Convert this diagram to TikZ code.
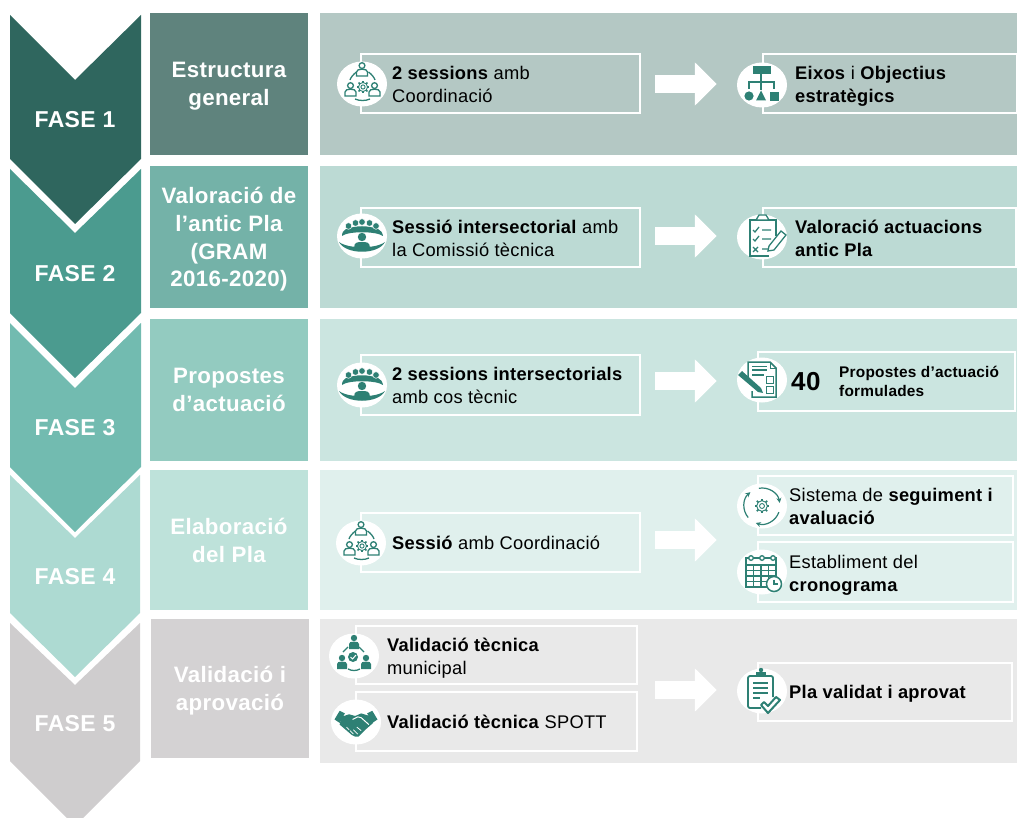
\documentclass[tikz,border=0pt]{standalone}
\usepackage{fontspec}
\setmainfont[LetterSpace=1.5]{Liberation Sans}
\usetikzlibrary{arrows.meta,shapes.geometric}
\definecolor{ic}{HTML}{2E8074}
\definecolor{chA}{HTML}{2F665E}\definecolor{chB}{HTML}{4B9B8F}\definecolor{chC}{HTML}{72BBB0}\definecolor{chD}{HTML}{ADDAD2}\definecolor{chE}{HTML}{CFCDCE}
\definecolor{hdA}{HTML}{5F837D}\definecolor{hdB}{HTML}{74B2A8}\definecolor{hdC}{HTML}{93CBC0}\definecolor{hdD}{HTML}{BEE2DA}\definecolor{hdE}{HTML}{D4D2D3}
\definecolor{bgA}{HTML}{B4C8C4}\definecolor{bgB}{HTML}{BCDAD4}\definecolor{bgC}{HTML}{CBE5E0}\definecolor{bgD}{HTML}{E0F0ED}\definecolor{bgE}{HTML}{E9E9E9}
\tikzset{
  hdbox/.style={inner sep=0pt,outer sep=0pt,anchor=north west,minimum width=158pt,text=white,align=center,text depth=0pt,
    font=\fontsize{22.3}{27.8}\selectfont\bfseries},
  bgbox/.style={inner sep=0pt,outer sep=0pt,anchor=north west,minimum width=697pt},
  fase/.style={text=white,inner sep=0pt,text depth=0pt,font=\fontsize{23}{26}\selectfont\bfseries},
  itembox/.style={draw=white,line width=2pt,inner sep=0pt,outer sep=0pt,anchor=north west},
  iconbg/.style={ellipse,fill=white,inner sep=0pt,minimum width=50pt,minimum height=45pt},
  lbl/.style={anchor=west,inner sep=0pt,align=left,text=black,text depth=0pt,font=\fontsize{18.3}{23}\selectfont},
  bigarrow/.style={draw=white,line width=18pt,-{Triangle[width=42pt,length=22pt]},shorten <=15pt,shorten >=20pt},
  il/.style={draw=ic,line width=1.3pt,fill=none},
  iconcoord/.pic={
    \personO{0}{-14}\personO{-11.5}{6}\personO{12.5}{6}
    \gearI{1}{3}{1.1}
    \draw[il] (-5.5,-12) .. controls (-9,-9.5) and (-11.5,-6) .. (-12,-4);
    \draw[il] (6.5,-12) .. controls (10,-9.5) and (12.5,-6) .. (13,-4);
    \draw[il] (-7,15) .. controls (-3,17) and (4,17) .. (8,15);
  },
  iconaud/.pic={
    \fill[ic] (-20,0) .. controls (-20,-7) and (-14,-8) .. (-8,-9) .. controls (-3,-10) and (3,-10) .. (8,-9)
      .. controls (14,-8) and (20,-7) .. (21,0) .. controls (14,-5) and (-14,-5) .. (-20,0) -- cycle;
    \foreach \hx/\hy in {-13.5/-10,-6.5/-13,0/-14,7.5/-13,14/-10}{\fill[ic,draw=white,line width=.5pt] (\hx,\hy) circle (3.3);}
    \fill[ic] (0,1) circle (4.2);
    \fill[ic] (-8,12) .. controls (-8,6) and (-4,6) .. (0,6) .. controls (4,6) and (8,6) .. (8,12) -- cycle;
    \fill[ic] (-23,6) .. controls (-14,13) and (14,13) .. (23,6) .. controls (16,19) and (-16,19) .. (-23,6) -- cycle;
  },
  iconhier/.pic={
    \fill[ic] (-9,-19) rectangle (9,-11);
    \draw[ic,line width=1.4pt] (-1,-11) -- (-1,5);
    \draw[ic,line width=1.4pt] (-13,4) -- (-13,-3) -- (12,-3) -- (12,4);
    \fill[ic] (-13,11) circle (4.6);
    \fill[ic] (-1,5.5) -- (-6,15.5) -- (4,15.5) -- cycle;
    \fill[ic] (8,7) rectangle (17,16);
  },
  iconcheck/.pic={
    \draw[il] (7,19) -- (-12,19) -- (-12,-17) -- (14,-17) -- (14,-1);
    \draw[il,fill=white] (-6,-17) -- (-3,-22) -- (4,-22) -- (7,-17) -- cycle;
    \draw[il] (-9,-7) -- (-7,-5) -- (-3,-10) (0,-7) -- (9,-7);
    \draw[il] (-9,2) -- (-7,4) -- (-3,-1) (0,2) -- (9,2);
    \draw[il] (-9,10) -- (-4,15) (-9,15) -- (-4,10) (0,12) -- (8,12);
    \draw[il,fill=white] (7,9) -- (19,-6) -- (24,-2) -- (12,13) -- (6,14) -- cycle;
  },
  iconform/.pic={
    \draw[ic,line width=1.5pt] (-14,-1) -- (-14,-18) -- (8,-18) -- (14,-12) -- (14,17) -- (-10,17) -- (-10,11);
    \draw[ic,line width=1pt] (8,-18) -- (8,-12) -- (14,-12);
    \draw[ic,line width=1.4pt] (-10,-13.5) -- (5,-13.5) (-10,-10) -- (5,-10) (-10,-5) -- (2,-5);
    \draw[il,line width=1pt] (4,-4) rectangle (11,3) (4,6) rectangle (11,13);
    \fill[ic] (-24,-5) -- (-20,-9) -- (-1,8) -- (1,13) -- (-4,12) -- cycle;
  },
  iconcycle/.pic={
    \foreach \a in {20,140,260}{
      \draw[ic,line width=1.2pt,-{Stealth[length=5pt,width=5pt]}] (\a:18) arc[start angle=\a,delta angle=90,radius=18];
    }
    \gearI{0}{0}{1.3}
  },
  iconcal/.pic={
    \draw[il] (-16,-14) rectangle (14,15);
    \draw[il] (-16,-7) -- (14,-7);
    \foreach \gx in {-8.5,-1,6.5}{\draw[il] (\gx,-7) -- (\gx,15);}
    \foreach \gy in {-1.5,4,9.5}{\draw[il] (-16,\gy) -- (14,\gy);}
    \foreach \gx in {-11,0,11}{\draw[il,fill=white] (\gx,-14) circle (2.3);}
    \draw[il,fill=white,line width=1.5pt] (12,12) circle (7.5);
    \draw[il] (12,7.5) -- (12,12) -- (16,12);
  },
  iconvalid/.pic={
    \personF{0}{-18}\personF{-12}{2}\personF{12}{2}
    \fill[ic] (-1,1) circle (5);
    \draw[white,line width=1pt] (-3.5,1) -- (-1.5,3) -- (2,-1);
    \draw[il] (-6,-9) -- (-11,-4) (5,-9) -- (10,-4);
    \draw[il] (-6,13) .. controls (-2,15) and (2,15) .. (6,13);
  },
  iconhand/.pic={
    \fill[ic] (-25,-3) -- (-19,-13) -- (-13,-10) -- (-19,1) -- cycle;
    \fill[ic] (25,-3) -- (19,-13) -- (13,-10) -- (19,1) -- cycle;
    \fill[ic] (-17,-6) -- (-8,-9) -- (-1,-7) -- (6,-10) -- (16,-7) -- (20,1) -- (12,8) -- (7,13) -- (3,17) -- (-1,17) -- (-5,15) -- (-19,3) -- cycle;
    \draw[white,line width=1pt] (-4,-3) -- (2,-6) -- (6,-5) -- (15,3);
    \draw[white,line width=.8pt] (1,6) -- (6,10) (-3,9) -- (2,14) (-7,10) -- (-3,14) (-11,6) -- (-8,9);
  },
  iconclip/.pic={
    \draw[ic,line width=1.8pt,rounded corners=2pt] (-1,17) -- (-14,17) -- (-14,-15) -- (11,-15) -- (11,6);
    \fill[ic] (-6,-15) rectangle (4,-19);
    \fill[ic] (-1,-21) circle (2.2);
    \draw[ic,line width=1.6pt] (-9,-8) -- (6,-8) (-9,-3) -- (6,-3) (-9,2) -- (6,2) (-9,7) -- (-2,7);
    \draw[ic,line width=2pt,line join=round,fill=white] (-1,14) -- (2,11) -- (6,15) -- (14,6) -- (18,9) -- (6,22) -- cycle;
  },
}
\newcommand{\personO}[2]{\begin{scope}[shift={(#1,#2)}]
  \draw[il] (0,-4.4) circle (2.9);
  \draw[il] (-5.5,6) -- (-5.5,2) .. controls (-5.5,0) and (-3,-.8) .. (0,-.8) .. controls (3,-.8) and (5.5,0) .. (5.5,2) -- (5.5,6) -- cycle;
\end{scope}}
\newcommand{\personF}[2]{\begin{scope}[shift={(#1,#2)}]
  \fill[ic] (0,0) circle (3.2);
  \fill[ic] (-5,11) -- (-5,6) .. controls (-5,4) and (-3,3.6) .. (0,3.6) .. controls (3,3.6) and (5,4) .. (5,6) -- (5,11) -- cycle;
\end{scope}}
\newcommand{\gearI}[3]{\begin{scope}[shift={(#1,#2)},scale=#3]
  \draw[ic,line width=.9pt] (0,0) circle (1.9);
  \draw[ic,line width=.9pt] (0,0) circle (4.1);
  \foreach \a in {0,45,...,315}{\draw[ic,line width=1.6pt] (\a:4) -- (\a:5.7);}
\end{scope}}
\newcommand{\chev}[5]{\fill[#5] (10,#1) -- (75,#2) -- (141,#1) -- (141,#3) -- (75,#4) -- (10,#3) -- cycle;}
\begin{document}
\begin{tikzpicture}[x=1pt,y=-1pt]
\useasboundingbox (0,0) rectangle (1017,818);
\clip (0,0) rectangle (1017,818);
% chevrons
\chev{15}{80}{159}{224}{chA}
\chev{169}{233}{313}{378}{chB}
\chev{323}{388}{467}{532}{chC}
\fill[chD] (10,475) -- (75,538) -- (140,475) -- (140,613) -- (75,677) -- (10,613) -- cycle;
\fill[chE] (10,623) -- (75,685) -- (140,623) -- (140,761) -- (75,826) -- (10,761) -- cycle;
\node[fase] (f1) at (75,119.5) {FASE 1};
\node[fase] (f2) at (75,273.5) {FASE 2};
\node[fase] (f3) at (75,427) {FASE 3};
\node[fase] (f4) at (75,576) {FASE 4};
\node[fase] (f5) at (75,723) {FASE 5};
% heading column
\node[hdbox,fill=hdA,minimum height=142pt] (h1) at (150,13) {Estructura\\general};
\node[hdbox,fill=hdB,minimum height=142pt] (h2) at (150,166) {Valoració de\\l’antic Pla\\(GRAM\\2016-2020)};
\node[hdbox,fill=hdC,minimum height=142pt] (h3) at (150,319) {Propostes\\d’actuació};
\node[hdbox,fill=hdD,minimum height=140pt] (h4) at (150,470) {Elaboració\\del Pla};
\node[hdbox,fill=hdE,minimum height=139pt] (h5) at (151,619) {Validació i\\aprovació};
% backgrounds
\node[bgbox,fill=bgA,minimum height=142pt] (r1) at (320,13) {};
\node[bgbox,fill=bgB,minimum height=142pt] (r2) at (320,166) {};
\node[bgbox,fill=bgC,minimum height=142pt] (r3) at (320,319) {};
\node[bgbox,fill=bgD,minimum height=140pt] (r4) at (320,470) {};
\node[bgbox,fill=bgE,minimum height=144pt] (r5) at (320,619) {};
% left item boxes
\node[itembox,minimum width=279pt,minimum height=59pt] (a1) at (361,54) {};
\node[itembox,minimum width=279pt,minimum height=59pt] (a2) at (361,208) {};
\node[itembox,minimum width=279pt,minimum height=60pt] (a3) at (361,355) {};
\node[itembox,minimum width=279pt,minimum height=59pt] (a4) at (361,513) {};
\node[itembox,minimum width=281pt,minimum height=58pt] (a5) at (356,626) {};
\node[itembox,minimum width=281pt,minimum height=59pt] (a6) at (356,692) {};
% right item boxes
\node[itembox,minimum width=254pt,minimum height=59pt] (b1) at (763,54) {};
\node[itembox,minimum width=253pt,minimum height=59pt] (b2) at (763,208) {};
\node[itembox,minimum width=257pt,minimum height=59pt] (b3) at (758,352) {};
\node[itembox,minimum width=255pt,minimum height=59pt] (b4) at (758,476) {};
\node[itembox,minimum width=255pt,minimum height=60pt] (b5) at (758,542) {};
\node[itembox,minimum width=254pt,minimum height=58pt] (b6) at (758,663) {};
% icon discs
\node[iconbg] (ia1) at (362,84) {};
\node[iconbg] (ia2) at (362,236) {};
\node[iconbg] (ia3) at (362,385) {};
\node[iconbg] (ia4) at (361,543) {};
\node[iconbg] (ia5) at (354,656) {};
\node[iconbg] (ia6) at (356,722) {};
\node[iconbg] (ib1) at (762,85) {};
\node[iconbg] (ib2) at (762,237) {};
\node[iconbg] (ib3) at (762,380) {};
\node[iconbg] (ib4) at (762,506) {};
\node[iconbg] (ib5) at (762,572) {};
\node[iconbg] (ib6) at (762,691) {};
% icons
\pic at (362,84) {iconcoord};
\pic at (362,236) {iconaud};
\pic at (362,385) {iconaud};
\pic at (361,543) {iconcoord};
\pic at (354,656) {iconvalid};
\pic[scale=.86] at (356,722) {iconhand};
\pic at (762,85) {iconhier};
\pic at (762,237) {iconcheck};
\pic at (762,380) {iconform};
\pic at (762,506) {iconcycle};
\pic at (762,572) {iconcal};
\pic at (762,691) {iconclip};
% arrows
\coordinate (y1) at (0,84);\coordinate (y2) at (0,236);\coordinate (y3) at (0,381);\coordinate (y4) at (0,540);\coordinate (y5) at (0,690);
\draw[bigarrow] (a1.east |- y1) -- (ib1.west |- y1);
\draw[bigarrow] (a2.east |- y2) -- (ib2.west |- y2);
\draw[bigarrow] (a3.east |- y3) -- (ib3.west |- y3);
\draw[bigarrow] (a4.east |- y4) -- (ib4.west |- y4);
\draw[bigarrow,shorten <=18pt] (a5.east |- y5) -- (ib6.west |- y5);
% labels
\node[lbl] (t1) at (392,84.5) {\textbf{2 sessions} amb\\Coordinació};
\node[lbl] (t2) at (392,238) {\textbf{Sessió intersectorial} amb\\la Comissió tècnica};
\node[lbl] (t3) at (392,385) {\textbf{2 sessions intersectorials}\\amb cos tècnic};
\node[lbl] (t4) at (392,543) {\textbf{Sessió} amb Coordinació};
\node[lbl] (t5) at (387,656) {\textbf{Validació tècnica}\\municipal};
\node[lbl] (t6) at (387,722) {\textbf{Validació tècnica} SPOTT};
\node[lbl] (u1) at (795,84.5) {\textbf{Eixos} i \textbf{Objectius}\\\textbf{estratègics}};
\node[lbl] (u2) at (795,238) {\textbf{Valoració actuacions}\\\textbf{antic Pla}};
\node[lbl,font=\fontsize{26}{30}\selectfont\bfseries] (u3n) at (791,381) {40};
\node[lbl,font=\fontsize{15.4}{19.5}\selectfont\bfseries] (u3) at (839,381.5) {Propostes d’actuació\\formulades};
\node[lbl] (u4) at (789,506.5) {Sistema de \textbf{seguiment i}\\\textbf{avaluació}};
\node[lbl] (u5) at (789,573.5) {Establiment del\\\textbf{cronograma}};
\node[lbl] (u6) at (789,692) {\textbf{Pla validat i aprovat}};
\end{tikzpicture}
\end{document}
